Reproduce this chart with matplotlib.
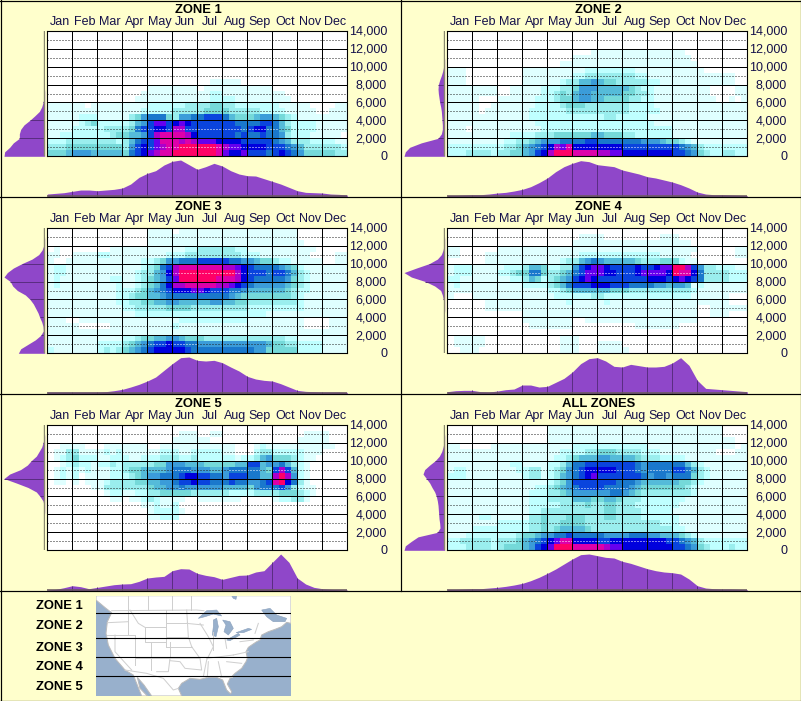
import numpy as np
import matplotlib
matplotlib.use("Agg")
import matplotlib.pyplot as plt
from matplotlib.colors import ListedColormap
from matplotlib.lines import Line2D
from matplotlib.transforms import ScaledTranslation

plt.rcParams["font.family"] = ["Liberation Sans", "DejaVu Sans"]

# =========================
# Data
# =========================

MONTHS = ["Jan", "Feb", "Mar", "Apr", "May", "Jun", "Jul", "Aug", "Sep", "Oct", "Nov", "Dec"]
ELEVATIONS = [0, 2000, 4000, 6000, 8000, 10000, 12000, 14000]
ZONE_NAMES = ["ZONE 1", "ZONE 2", "ZONE 3", "ZONE 4", "ZONE 5"]

# heat levels, top row (13,300-14,000 ft) first, one group per month
E = "0000 0000 0000 0000 0000 0000 0000 0000 0000 0000 0000 0000"

ZONE1_HEAT = [
    E, E, E, E, E, E, E, E,
    "0000 0000 0000 0000 0000 0000 0011 1110 0000 0000 0000 0000",
    "0000 0000 0000 0000 1111 1111 0111 1111 1111 0000 0000 0000",
    "0000 0000 0000 0001 1111 1111 1122 1111 1111 1100 0000 0000",
    "0000 0000 0000 0011 1111 1111 1122 2211 1111 1110 0000 0000",
    "1111 1101 1111 1111 2222 2233 3344 3322 2222 2111 1100 0011",
    "1111 1111 1111 1112 2222 3333 3444 4333 3322 2211 1110 0111",
    "1111 1222 1111 1346 7774 3667 7888 7544 4566 5432 1111 1111",
    "1111 1234 2222 2356 8aa8 9a98 8888 8877 7788 7532 2221 1111",
    "1111 2222 2333 3478 8998 bb88 8888 8887 8997 7542 2221 1111",
    "1122 2222 2234 4556 8bcc ccb9 8888 8878 7787 7632 2211 1110",
    "2223 3333 3332 3578 8acc cbcb aaa9 9998 8888 7653 3322 2211",
    "3334 4444 4444 3689 8abc cddd dddc baa9 9998 8876 5333 3332",
    "4445 6665 5555 4789 abcc dddd dddc a99a 8887 8987 6444 4433",
]

ZONE2_HEAT = [
    E, E, E,
    "0000 0000 0000 0000 0000 0001 1111 1111 1111 1100 0000 0000",
    "0000 0000 0000 0000 0000 1111 1111 1111 1111 1110 0000 0000",
    "0000 0000 0000 0000 0011 1111 1111 1111 1111 1111 0000 0000",
    "1110 0000 0000 1111 1111 1122 2222 2211 1111 1111 1000 0000",
    "1110 0000 0000 1111 1111 2233 3333 3322 1111 1111 1111 1100",
    "1110 0000 0000 1111 1123 3556 5443 3333 2211 1111 1111 1100",
    "1111 1111 0011 1112 2233 4666 5555 5432 2111 1111 1100 0011",
    "1111 1111 0011 1112 2343 5665 5555 4433 2111 1111 1100 0011",
    "1111 1000 1111 1122 2344 5665 5444 4332 2111 1111 1110 0101",
    "1111 1001 1111 1122 2234 4433 3333 3222 2111 1111 1111 1111",
    "1111 1011 1111 1222 2223 3333 3333 3222 2211 1111 1111 1111",
    "1111 1111 1111 1222 2222 2222 2332 2222 1111 1111 1111 1111",
    "1111 1111 1111 1122 2222 2222 2222 2222 2111 1111 1111 1111",
    "1110 1111 1111 1112 2222 2222 2222 2222 2222 1111 1111 1111",
    "1111 1111 1122 2233 3444 4445 5444 3322 2222 1111 1111 1111",
    "1111 1111 1223 3456 6677 7788 7777 7776 6654 4321 1111 1111",
    "2222 2222 2334 5678 9bac 9999 9999 8888 8888 8765 3222 2222",
    "2223 3332 3344 5689 bddd cccc bbaa 9999 9999 8876 4322 3322",
]

ZONE3_HEAT = [
    "0000 0000 0000 0000 1111 0111 1111 1111 1111 1111 0000 0000",
    "0000 0000 0000 0000 1111 1111 1111 1111 1111 1111 0000 0000",
    "0000 0000 0000 0000 1111 1111 1111 1111 1111 1111 1000 0000",
    "0100 0000 0011 1111 1111 1122 3333 3322 1111 1111 1110 0000",
    "1100 1111 2211 1111 1112 2233 3333 3332 2211 1111 1100 0011",
    "1001 1111 1111 1112 2346 6777 8888 8776 6544 3221 1111 0011",
    "1221 1111 1111 1112 3478 bccc cccc bba9 8777 7654 2111 1111",
    "1221 1111 1111 1123 3569 bddd dddd ddb9 8887 8875 3211 1111",
    "1211 1111 1122 1123 4568 addd dddc ccb9 8777 7764 3211 1111",
    "1211 1111 1112 1123 4579 bbcc cccb ba98 7666 6654 3211 1111",
    "1111 1111 1112 2234 5678 999a a988 8776 5555 5543 2211 1111",
    "1111 1111 1112 2344 5567 7777 7777 7654 4444 4443 2111 1111",
    "1111 1111 1112 2334 4556 6555 5566 5544 3333 3333 2111 1111",
    "1111 1111 1111 2233 3334 4443 3333 3333 2222 2222 2111 1111",
    "1111 1111 1111 1122 2222 2222 2222 2222 2221 1111 1111 1111",
    "1110 0111 1111 1111 1111 1222 2222 2222 1111 1111 1000 0111",
    "1111 1000 0011 1111 1111 2111 1111 1111 1111 1111 1000 0111",
    "1111 1111 1111 1111 1111 1111 1111 1111 1111 1111 1111 1111",
    "1111 1111 1111 2234 4556 6544 4333 3333 3333 3322 1111 1111",
    "1111 1111 2222 3456 7889 8877 6666 6666 6665 4433 2222 1111",
    "2111 1111 2323 4567 8999 9987 7777 7777 7664 4444 2222 1111",
]

ZONE4_HEAT = [
    E,
    "0000 0000 0000 0000 0000 0111 1000 0000 0011 1000 0000 0000",
    "0000 0000 0000 0000 0000 1111 1111 1111 1111 1110 0000 0000",
    "1100 0000 1111 1111 1111 1111 1111 1111 1111 1111 0000 0011",
    "1100 0011 1111 1111 1111 1222 2222 2222 2211 1110 0000 0011",
    "0000 0011 1111 1111 1123 3567 6555 5543 3344 4211 0000 0000",
    "1222 1111 1222 3554 2233 689a a988 8898 89aa ddb8 6332 2211",
    "1222 1111 2234 4774 3345 78aa a998 889a aaa9 dcc9 7333 3222",
    "2211 1111 1122 3542 3456 89a9 8888 8888 9998 9a98 7333 3222",
    "1211 1111 1111 2222 3457 8889 9988 8777 7665 6651 2111 1111",
    "1111 1111 1111 1111 2234 5555 5544 4333 3333 3332 1111 1111",
    "1000 1111 1111 1111 1222 2223 3222 2222 2222 2221 1111 1000",
    "0000 0011 1111 1111 1112 1111 1211 1111 1111 1111 1111 1000",
    "0000 0011 1111 1111 1111 1111 1111 1111 1111 1111 0011 1111",
    "0000 0000 0000 1111 1111 1111 1111 1111 1111 1111 0011 1000",
    "0000 0000 0000 1111 1111 0011 1111 1111 1111 1111 0000 0000",
    "0000 0000 0000 0111 1111 0000 0000 0011 1111 1000 0000 0000",
    E,
    "0111 1100 0000 0000 0011 1000 0000 0000 0000 0000 0000 0000",
    "0111 1100 0000 0000 0011 1000 1111 0000 0000 0000 0000 0000",
    "0011 1000 0000 0000 0011 1000 1111 1000 0000 0000 0000 0000",
]

ZONE5_HEAT = [
    E,
    "0000 0000 0000 0000 0000 0111 0011 0000 0000 0000 0111 1000",
    "0000 0000 0000 0000 0000 1111 1100 0000 0000 0000 1111 1000",
    "0011 1100 0111 1111 0011 1111 1111 1100 0121 1111 1111 1100",
    "0113 3111 1212 1111 1122 2112 2222 1100 0233 2222 2111 0000",
    "0123 4222 1122 2112 2233 3223 2222 2212 2356 4443 2110 0000",
    "0012 3221 2232 3333 3446 6655 5444 4455 8856 6753 2100 0000",
    "0121 2121 1122 3445 5556 7776 6655 6777 7754 8b85 2100 0000",
    "0121 2011 1122 2345 6677 7899 8877 6888 7755 bdb6 2100 0000",
    "0110 1011 1233 3344 5566 7889 8877 7877 6678 cd97 3100 0000",
    "0000 0001 1333 3333 4556 6766 6666 5555 4677 7863 2110 0000",
    "0000 0000 0122 1122 3344 4443 3333 3222 2333 3444 3210 0000",
    "0000 0000 0011 0112 3211 1100 1111 1110 0000 1223 3100 0000",
    "0000 0000 0000 0001 1211 2000 0000 0000 0000 0000 0000 0000",
    "0000 0000 0000 0000 1222 2100 0000 0000 0000 0000 0000 0000",
    "0000 0000 0000 0000 1122 2000 0000 0000 0000 0000 0000 0000",
    E, E, E, E, E,
]

ALL_HEAT = [
    "0000 0000 0000 0000 1111 1111 1111 1111 1111 1111 1111 0000",
    "0000 0000 0000 0000 1111 1111 1111 1111 1111 1111 1111 0000",
    "0000 0000 0000 0000 1111 1111 1111 1111 1111 1111 1111 1100",
    "1100 0001 1111 1111 1111 2222 2222 2222 1111 1111 1111 1101",
    "1111 1111 1111 1111 1122 2233 4443 3332 2211 1111 1110 0011",
    "1111 1111 1111 1111 1223 4555 6655 5543 3322 2211 1111 1111",
    "1111 1111 1122 1111 2235 7788 8888 8876 7777 7753 2111 1111",
    "1221 1111 1112 2331 2346 7899 9998 8876 7777 8875 3211 1111",
    "2221 1111 1111 2331 2356 789a 8888 8887 6776 7774 3211 1111",
    "1111 1111 1111 1111 2346 8888 8887 7765 5555 5443 2111 1111",
    "1111 1111 1111 1122 3456 7888 8777 7654 4444 4432 1111 1111",
    "1111 1111 1111 1222 3345 6666 6677 6543 3333 3332 1111 1111",
    "1111 1111 1111 1222 3333 5554 4554 3332 2222 2211 1111 1111",
    "1111 1111 1111 1222 2233 3343 3443 3322 2222 2111 1111 1111",
    "1111 1111 1111 1223 3333 3333 3443 3332 2222 1111 1111 1111",
    "1111 1221 1111 1334 3334 4433 3443 3332 2222 2111 1111 1111",
    "1111 1111 2222 2334 3344 4433 3333 3333 3322 2111 1111 1111",
    "1111 2222 2222 2334 3455 5543 3333 3333 3333 2211 1111 1111",
    "1112 2222 2223 4456 6778 7777 7666 6777 6655 5432 1111 1111",
    "2233 3332 3334 5678 9acc 9999 8899 9999 9998 8765 3222 2222",
    "2223 3332 3444 5689 addd cccc cbaa 9999 9999 8876 4322 2322",
]

# month profile below each panel, three values per month
ZONE1_MONTHLY = [8, 10, 12, 16, 20, 20, 18, 20, 22, 26, 38, 58, 70, 78, 95, 106, 110, 96, 82, 90,
                 100, 92, 78, 68, 63, 62, 54, 46, 38, 28, 18, 13, 12, 11, 8, 7, 5]
ZONE2_MONTHLY = [4, 4, 5, 6, 6, 8, 11, 13, 17, 22, 30, 42, 56, 75, 90, 100, 108, 105, 96, 93,
                 90, 80, 74, 68, 60, 56, 50, 44, 36, 26, 14, 8, 6, 6, 5, 4, 3]
ZONE3_MONTHLY = [5, 5, 5, 5, 5, 5, 5, 6, 9, 13, 20, 28, 38, 50, 70, 90, 108, 110, 100, 98,
                 100, 93, 80, 68, 52, 44, 40, 38, 30, 20, 10, 7, 6, 5, 5, 5, 4]
ZONE4_MONTHLY = [6, 9, 10, 10, 6, 5, 8, 12, 14, 26, 26, 20, 22, 34, 46, 65, 90, 105, 108, 98,
                 82, 80, 88, 84, 80, 80, 82, 92, 108, 85, 40, 16, 14, 12, 10, 8, 6]
ZONE5_MONTHLY = [2, 4, 9, 15, 12, 6, 10, 14, 18, 20, 21, 28, 38, 41, 43, 60, 66, 65, 52, 46,
                 42, 34, 40, 46, 47, 56, 60, 85, 110, 85, 38, 20, 10, 6, 4, 3, 2]
ALL_MONTHLY = [4, 4, 5, 6, 6, 8, 10, 13, 17, 22, 30, 40, 52, 65, 80, 95, 108, 110, 105, 100,
               98, 88, 82, 74, 66, 60, 56, 54, 50, 35, 15, 8, 6, 5, 5, 4, 3]

# elevation profile left of each panel, every 500 ft from 0 up
ZONE1_ELEV = [122, 120, 105, 94, 76, 76, 72, 62, 45, 30, 16, 9, 5, 2, 1] + [0] * 14
ZONE2_ELEV = [122, 118, 105, 70, 20, 10, 7, 7, 8, 9, 10, 12, 15, 17, 19, 20, 19, 15, 10, 6, 3, 1] + [0] * 7
ZONE3_ELEV = [79, 72, 50, 28, 12, 4, 5, 9, 15, 20, 27, 34, 44, 58, 82, 96, 103, 122, 112, 94, 68, 38, 18, 8, 3, 1] + [0] * 3
ZONE4_ELEV = [0] * 10 + [1, 2, 4, 7, 12, 30, 58, 100, 122, 85, 46, 22, 10, 5, 2, 1] + [0] * 3
ZONE5_ELEV = [0] * 9 + [1, 2, 5, 14, 25, 50, 85, 122, 105, 72, 52, 40, 25, 17, 9, 5, 1] + [0] * 3
ALL_ELEV = [122, 118, 100, 80, 22, 14, 15, 17, 18, 19, 20, 22, 25, 30, 38, 45, 55, 65, 60, 45, 28, 16, 9, 5, 2, 1] + [0] * 3

PANELS = [
    ("ZONE 1", ZONE1_HEAT, ZONE1_MONTHLY, ZONE1_ELEV),
    ("ZONE 2", ZONE2_HEAT, ZONE2_MONTHLY, ZONE2_ELEV),
    ("ZONE 3", ZONE3_HEAT, ZONE3_MONTHLY, ZONE3_ELEV),
    ("ZONE 4", ZONE4_HEAT, ZONE4_MONTHLY, ZONE4_ELEV),
    ("ZONE 5", ZONE5_HEAT, ZONE5_MONTHLY, ZONE5_ELEV),
    ("ALL ZONES", ALL_HEAT, ALL_MONTHLY, ALL_ELEV),
]

# map outlines, in the pixel grid of the map picture
MAP_LAND = [(288, 17), (873, 17), (873, 100), (860, 97), (845, 110), (825, 118), (805, 125), (785, 135),
            (780, 150), (770, 155), (755, 165), (745, 172), (738, 185), (742, 205), (738, 215), (725, 235),
            (705, 250), (690, 265), (682, 282), (695, 305), (692, 312), (680, 300), (668, 270), (650, 262),
            (625, 262), (600, 268), (570, 265), (545, 280), (535, 295), (545, 318), (455, 318), (432, 285),
            (412, 262), (420, 295), (442, 318), (425, 318), (400, 255), (375, 240), (345, 205), (325, 165),
            (318, 130), (322, 95), (335, 68), (318, 55), (288, 30)]
MAP_WATER = [
    [(785, 60), (810, 55), (830, 75), (860, 85), (855, 95), (820, 95), (800, 80)],
    [(595, 85), (620, 62), (650, 60), (665, 78), (640, 72), (615, 80)],
    [(640, 90), (650, 85), (655, 110), (648, 140), (637, 135), (640, 110)],
    [(668, 90), (690, 95), (700, 115), (685, 135), (672, 125), (678, 105)],
    [(680, 150), (715, 130), (720, 135), (690, 152)],
    [(708, 128), (745, 115), (755, 118), (730, 128)],
    [(695, 17), (710, 17), (708, 28), (700, 25)],
]
MAP_BORDERS = [
    [(335, 62), (590, 60), (612, 62)], [(385, 17), (385, 60)], [(445, 17), (445, 60)], [(517, 17), (517, 60)],
    [(572, 17), (572, 60)], [(322, 98), (385, 95)], [(385, 60), (385, 135)], [(390, 60), (415, 100), (435, 112)],
    [(497, 60), (497, 170)], [(497, 100), (558, 100)], [(497, 140), (565, 140)], [(435, 110), (497, 110)],
    [(435, 110), (435, 155), (497, 155)], [(320, 135), (405, 135)], [(405, 135), (405, 225)],
    [(345, 135), (345, 185), (395, 240)], [(453, 155), (453, 240)], [(405, 205), (510, 205)], [(510, 155), (510, 205)],
    [(510, 205), (505, 245), (470, 245)], [(510, 212), (540, 215), (555, 235), (605, 240), (600, 205), (510, 205)],
    [(497, 170), (575, 170)], [(575, 170), (600, 205)], [(560, 60), (565, 140), (575, 170)], [(560, 100), (610, 105)],
    [(600, 100), (625, 140), (640, 170), (620, 210), (610, 260)], [(640, 125), (640, 180)], [(675, 145), (680, 175)],
    [(620, 205), (700, 195)], [(700, 195), (745, 185)], [(625, 215), (622, 262)], [(655, 215), (665, 262)],
    [(660, 262), (695, 262)], [(680, 215), (725, 220)], [(765, 130), (775, 100)], [(720, 155), (760, 150)],
    [(375, 240), (440, 250), (490, 265), (520, 300), (535, 295)],
]
MAP_LINES = [70, 143, 200, 259]

# =========================
# Styles
# =========================

CREAM = "#ffffcc"
PURPLE = "#8f47c9"
DARK_PURPLE = "#5a2d82"
TICK_TEXT = "#14104a"
LEVELS = "0123456789abcd"
HEAT_COLORS = ["#ffffff", "#dfffff", "#bfffff", "#9aeeee", "#75d9d9", "#55bbd9", "#3b9cd9",
               "#1a78cc", "#0a44dd", "#0000dd", "#6600ee", "#aa00cc", "#dd00aa", "#ff0066"]
heat_cmap = ListedColormap(HEAT_COLORS)

PX = 0.72  # one pixel in points at dpi 100
W, H = 801, 701

fig = plt.figure(figsize=(W / 100, H / 100), dpi=100, facecolor=CREAM)


def add_ax(left, top, right, bottom):
    return fig.add_axes([left / W, 1 - bottom / H, (right - left) / W, (bottom - top) / H])


def parse_heat(rows):
    grid = [[LEVELS.index(c) for c in row.replace(" ", "")] for row in rows]
    return np.array(grid)[::-1]  # row 0 is the lowest band now


def draw_panel(x0, y0, title, heat_rows, monthly, elev):
    heat = parse_heat(heat_rows)
    n_rows, n_cols = heat.shape

    ax = add_ax(x0 + 47.3, y0 + 30.7, x0 + 347.3, y0 + 156.3)
    x_edges = np.linspace(0, 12, n_cols + 1)
    y_edges = np.linspace(0, 14000, n_rows + 1)
    ax.pcolormesh(x_edges, y_edges, heat, cmap=heat_cmap, vmin=-0.5, vmax=13.5)

    for m in range(1, 12):
        ax.axvline(m, color="black", lw=PX, zorder=3)
    for e in range(2000, 14000, 2000):
        ax.axhline(e, color="black", lw=PX, zorder=3)

    # dotted lines at the odd thousands go white over the dark cells
    for e in range(1000, 14000, 2000):
        row = int(e / (14000 / n_rows))
        dark = heat[row] >= 7
        start = 0
        for c in range(1, n_cols + 1):
            if c == n_cols or dark[c] != dark[start]:
                ax.plot([x_edges[start], x_edges[c]], [e, e], color="white" if dark[start] else "#222222",
                        lw=PX, ls=(0, (1, 2)), zorder=2, solid_capstyle="butt")
                start = c

    ax.set_xlim(0, 12)
    ax.set_ylim(0, 14000)
    ax.set_xticks(np.arange(12) + 0.5)
    ax.set_xticklabels(MONTHS, fontsize=9.0, color=TICK_TEXT)
    ax.xaxis.tick_top()
    ax.tick_params(axis="x", length=0, pad=1.8)
    ax.yaxis.tick_right()
    ax.set_yticks(ELEVATIONS)
    ax.set_yticklabels([f"{e:,}" for e in ELEVATIONS], fontsize=9.0, color=TICK_TEXT, ha="right")
    ax.tick_params(axis="y", length=0, pad=28.6)
    up = ScaledTranslation(0, 0.8 / 100, fig.dpi_scale_trans)
    for lab in ax.get_yticklabels():
        lab.set_transform(lab.get_transform() + up)
    for s in ax.spines.values():
        s.set_linewidth(PX * 1.1)

    fig.text((x0 + 198.5) / W, 1 - (y0 + 10.2) / H, title, fontsize=9.36, fontweight="bold",
             ha="center", va="center", color="black")

    # month profile under the panel
    bottom_ax = add_ax(x0 + 47.3, y0 + 160, x0 + 347.3, y0 + 196.7)
    months_x = np.linspace(0, 12, len(monthly))
    bottom_ax.fill_between(months_x, monthly, 0, color=PURPLE, lw=0)
    bottom_ax.vlines(np.arange(1, 12), 0, monthly[3:-1:3], color=DARK_PURPLE, lw=PX)
    bottom_ax.axhline(1.5, color="#6b5a60", lw=PX * 1.6)
    bottom_ax.set_xlim(0, 12)
    bottom_ax.set_ylim(0, 110)
    bottom_ax.axis("off")

    # elevation profile left of the panel
    side_ax = add_ax(x0 + 4, y0 + 30.7, x0 + 44.7, y0 + 156.3)
    elev_y = np.linspace(0, 14000, len(elev))
    side_ax.fill_betweenx(elev_y, elev, 0, color=PURPLE, lw=0)
    side_ax.hlines(ELEVATIONS[1:-1], 0, elev[4:-1:4][:6], color=DARK_PURPLE, lw=PX)
    side_ax.axvline(0.6, color="#88886e", lw=PX * 1.4)
    side_ax.set_xlim(122, 0)
    side_ax.set_ylim(0, 14000)
    side_ax.axis("off")


# =========================
# Panels
# =========================

for i, (title, heat_rows, monthly, elev) in enumerate(PANELS):
    draw_panel(400 * (i % 2), 197 * (i // 2), title, heat_rows, monthly, elev)

# frame lines between the panels
for y in [197, 394, 591]:
    fig.add_artist(Line2D([0, 1], [1 - (y - 0.3) / H] * 2, color="black", lw=PX * 1.2))
fig.add_artist(Line2D([400.5 / W] * 2, [1 - 591 / H, 1], color="black", lw=PX * 1.2))
for x in [0.5, 800.5]:
    fig.add_artist(Line2D([x / W] * 2, [0, 1], color="black", lw=PX * 1.2))
for y in [0.5, 700.5]:
    fig.add_artist(Line2D([0, 1], [1 - y / H] * 2, color="black", lw=PX * 1.2))

# =========================
# Zone map
# =========================

for name, y in zip(ZONE_NAMES, [605.7, 625.7, 647.7, 666.7, 686.7]):
    fig.text(36 / W, 1 - y / H, name, fontsize=9.36, fontweight="bold", ha="left", va="center", color="black")

map_ax = add_ax(96, 595.7, 291, 696)
map_ax.set_facecolor("#98b0cc")
map_ax.fill(*zip(*MAP_LAND), facecolor="white", edgecolor="#bbbbbb", lw=PX)
for poly in MAP_WATER:
    map_ax.fill(*zip(*poly), facecolor="#98b0cc", edgecolor="#8aa0bc", lw=0.4)
for line in MAP_BORDERS:
    map_ax.plot(*zip(*line), color="#cfcfcf", lw=PX)
for y in MAP_LINES:
    map_ax.axhline(y, color="black", lw=PX * 1.1)
map_ax.set_xlim(288, 873)
map_ax.set_ylim(318, 17)
map_ax.set_xticks([])
map_ax.set_yticks([])
for s in map_ax.spines.values():
    s.set_visible(False)

fig.savefig("out.png", dpi=100, facecolor=CREAM)
